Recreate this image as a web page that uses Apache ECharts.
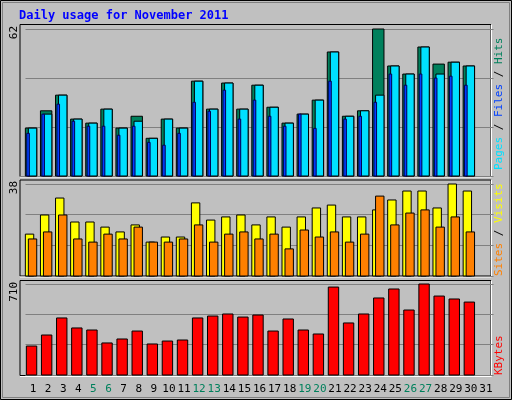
<!DOCTYPE html>
<html><head><meta charset="utf-8">
<script src="https://cdn.jsdelivr.net/npm/echarts@6/dist/echarts.min.js"></script>
<style>html,body{margin:0;padding:0;background:#c0c0c0}#c{width:512px;height:400px}</style>
</head><body><div id="c"></div>
<script>
var days = [];
for (var d = 1; d <= 31; d++) days.push(String(d));
var weekendDays = ['5','6','12','13','19','20','26','27'];
var hits  = [20.2,27.5,34.1,24,22.3,28.2,20.2,25.2,15.9,24,20.2,40,28.2,39.2,28.2,38.3,29,22.3,26.1,32,52.3,25.2,27.5,62,46.4,43,54.4,47.2,48,46.4];
var files = [20.2,26.1,34.1,24,22.3,28.2,20.2,23.1,15.9,24,20.2,40,28.2,39.2,28.2,38.3,29,22.3,26.1,32,52.3,25.2,27.5,34.1,46.4,43,54.4,43,48,46.4];
var pages = [18,26.1,30.3,23.1,21,21,17.2,21,14.2,13,18,31.1,27.3,36.2,24,32,25.2,21,26.1,20.1,40,24,25.2,31.1,43,38.3,43,41.3,42.1,38.3];
var visits = [17.3,25.2,32.2,22.3,22.3,20.2,18.2,21.1,14,16.1,16.1,30.2,23.1,24.4,25.2,21.1,24.4,20.2,24.4,28.1,29.3,24.4,24.4,27.3,31.4,35.1,35.1,28.1,38,35.1];
var sites = [15.3,18.2,25.2,15.3,14,17.3,15.3,20.2,14,14,15.3,21.1,14,17.3,18.2,15.3,17.3,11.2,19,16.1,18.2,14,17.3,33,21.1,26,27.3,20.2,24.4,18.2];
var kbytes = [226,312,445,367,351,250,281,343,242,265,273,445,460,476,452,468,343,437,351,320,686,406,476,601,671,507,710,616,593,569];
var maxTicks = ['62','38','710'];

function pairs(a){return a.map(function(v,i){return [i,v];});}
function barItem(l,r,color,stroke){
  return function(p,api){
    var c=api.coord([api.value(0),api.value(1)]);
    var b=api.coord([api.value(0),0]);
    return {type:'rect',shape:{x:c[0]+l,y:c[1],width:r-l,height:b[1]-c[1]},
      style:{fill:color,stroke:stroke||'#000',lineWidth:1}};
  };
}
var font='DejaVu Sans Mono';
var grids=[{left:25.5,width:468,top:29,height:147},{left:25.5,width:468,top:184,height:92},{left:25.5,width:468,top:284,height:91}];
var maxV=[62,38,710];
var xAxes=grids.map(function(g,i){return {type:'category',gridIndex:i,data:days,boundaryGap:true,
  axisLine:{show:false},axisTick:{show:false},
  axisLabel:{show:i===2,interval:0,margin:9,fontFamily:font,fontSize:11,
    color:function(v){return weekendDays.indexOf(v)>=0?'#00805c':'#000';}}};});
var yAxes=grids.map(function(g,i){return {type:'value',gridIndex:i,min:0,max:maxV[i],interval:maxV[i]/3,
  axisLabel:{show:false},axisLine:{show:false},axisTick:{show:false},
  splitLine:{lineStyle:{color:'#808080',width:1}}};});
function ser(data,gi,l,r,color,stroke){return {type:'custom',xAxisIndex:gi,yAxisIndex:gi,data:pairs(data),
  encode:{x:0,y:1},renderItem:barItem(l,r,color,stroke),silent:true};}
function panel(y,h){return {type:'rect',z:-1,shape:{x:20,y:y,width:471,height:h},style:{fill:'#c0c0c0',stroke:'#000',lineWidth:1}};}
function wline(x1,y1,x2,y2){return {type:'line',z:-1,shape:{x1:x1,y1:y1,x2:x2,y2:y2},style:{stroke:'#fff',lineWidth:1}};}
function vtext(x,y,rich,txt,align){return {type:'text',x:x,y:y,rotation:Math.PI/2,
  style:{text:txt,rich:rich,font:'11px '+font,align:align||'left',verticalAlign:'middle',fill:'#000'}};}
var chart=echarts.init(document.getElementById('c'));
chart.setOption({
  animation:false,
  backgroundColor:'#c0c0c0',
  grid:grids,xAxis:xAxes,yAxis:yAxes,
  graphic:[
    {type:'rect',z:-2,shape:{x:0.5,y:0.5,width:511,height:399},style:{fill:'#c0c0c0',stroke:'#000',lineWidth:1}},
    {type:'rect',z:-2,shape:{x:2.5,y:2.5,width:507,height:395},style:{fill:'none',stroke:'#808080',lineWidth:1}},
    panel(24.5,152), wline(491.5,24.5,491.5,177), wline(20,177,491.5,177),
    panel(180,96), wline(491.5,180,491.5,277), wline(20,277,491.5,277),
    panel(280.5,95), wline(491.5,280.5,491.5,376.5), wline(20,376.5,491.5,376.5),
    {type:'text',x:19,y:16,style:{text:'Daily usage for November 2011',font:'bold 12px '+font,fill:'#0000ff',verticalAlign:'middle'}},
    vtext(14,26,null,maxTicks[0],'right'),
    vtext(14,181,null,maxTicks[1],'right'),
    vtext(14,282,null,maxTicks[2],'right'),
    {type:'text',x:499,y:170,rotation:Math.PI/2,style:{text:'{p|Pages}{s| / }{f|Files}{s| / }{h|Hits}',align:'left',verticalAlign:'middle',
      font:'11px '+font,rich:{p:{fill:'#00e0ff',font:'11px '+font},f:{fill:'#0040ff',font:'11px '+font},h:{fill:'#00805c',font:'11px '+font},s:{fill:'#000',font:'11px '+font}}}},
    {type:'text',x:499,y:276,rotation:Math.PI/2,style:{text:'{a|Sites}{s| / }{b|Visits}',align:'left',verticalAlign:'middle',
      font:'11px '+font,rich:{a:{fill:'#ff8000',font:'11px '+font},b:{fill:'#ffff00',font:'11px '+font},s:{fill:'#000',font:'11px '+font}}}},
    {type:'text',x:499,y:375,rotation:Math.PI/2,style:{text:'KBytes',align:'left',verticalAlign:'middle',font:'11px '+font,fill:'#ff0000'}}
  ],
  series:[
    ser(hits,0,-7.7,3.7,'#00805c'),
    ser(files,0,-4.7,3.7,'#00e0ff'),
    ser(pages,0,-6.3,-3.7,'#0040ff','#000050'),
    ser(visits,1,-7.7,0.7,'#ffff00'),
    ser(sites,1,-4.7,3.7,'#ff8000'),
    ser(kbytes,2,-6.7,3.7,'#ff0000')
  ]
});
</script></body></html>
